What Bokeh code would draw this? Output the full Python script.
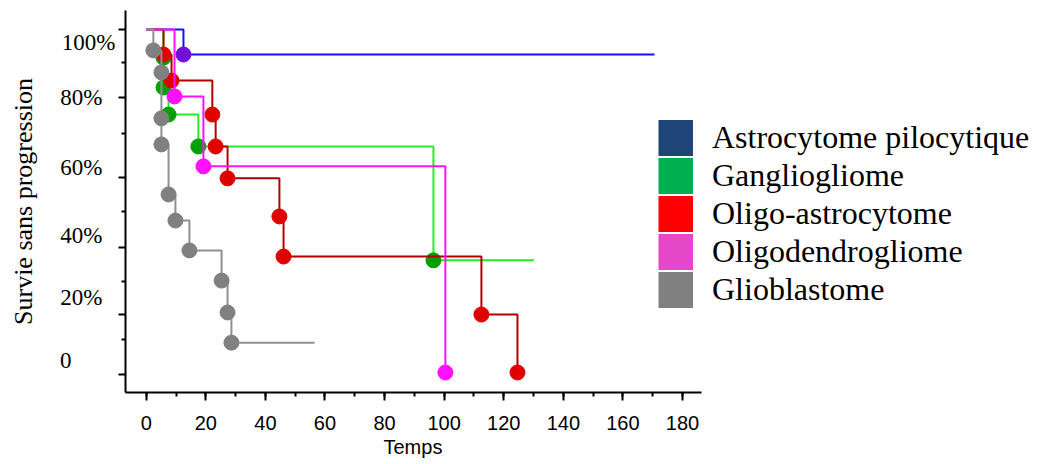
from bokeh.plotting import figure
from bokeh.models import (Range1d, FixedTicker, SingleIntervalTicker, LinearAxis,
                          Legend, LegendItem, CustomJSTickFormatter, Title)
from bokeh.embed import file_html
from bokeh.resources import INLINE

NaN = float("nan")

# ---- data ----
names = ["Astrocytome pilocytique", "Gangliogliome", "Oligo-astrocytome",
         "Oligodendrogliome", "Glioblastome"]

astro_t = [12.5]
astro_s = [92.7]
astro_end = 170.6

gang_t = [5.8, 5.8, 7.5, 17.5, 96.4]
gang_s = [91.8, 83.1, 75.2, 65.9, 32.7]
gang_end = 130.1

oligoastro_t = [5.8, 8.5, 22.2, 23.3, 27.3, 44.7, 46.1, 112.5, 124.6]
oligoastro_s = [92.7, 85.1, 75.2, 65.9, 56.6, 45.5, 33.8, 16.9, 0.0]
oligoastro_end = 124.6

oligodendro_t = [9.5, 19.2, 100.4]
oligodendro_s = [80.5, 60.1, 0.0]
oligodendro_end = 100.4

glio_t = [2.4, 5.1, 5.1, 5.1, 7.5, 9.8, 14.5, 25.3, 27.3, 28.6]
glio_s = [93.9, 87.5, 74.1, 66.5, 51.9, 44.3, 35.6, 26.8, 17.5, 8.7]
glio_end = 56.5

x_ticks_interval = 20
x_axis_bounds = (-6.95, 186.3)
y_tick_labels = ["100%", "80%", "60%", "40%", "20%", "0"]
y_label_pos = [96.2, 80.2, 59.8, 39.9, 21.9, 3.5]
y_major_ticks = [100.0, 80.2, 56.9, 36.4, 16.9, -0.6]
y_minor_ticks = [90.4, 69.7, 46.9, 26.5, 9.6]

legend_colors = ["#1F4478", "#00B050", "#FF0000", "#E646C8", "#808080"]
line_colors = ["#1010FF", "#22EE22", "#B00000", "#FF10FF", "#909090"]
marker_colors = ["#7010D8", "#00A000", "#E00000", "#FF10FF", "#808080"]

# ---- figure ----
p = figure(width=1039, height=464, output_backend="svg", toolbar_location=None,
           x_range=Range1d(-6.95, 299.8), y_range=Range1d(-5.83, 105.54),
           min_border_left=125, min_border_right=0, min_border_top=10,
           min_border_bottom=72)
p.grid.visible = False
p.outline_line_color = None

series = [
    (astro_t, astro_s, astro_end, 0),
    (gang_t, gang_s, gang_end, 1),
    (oligoastro_t, oligoastro_s, oligoastro_end, 2),
    (oligodendro_t, oligodendro_s, oligodendro_end, 3),
    (glio_t, glio_s, glio_end, 4),
]
for t, s, end, i in series:
    xs = [0.0] + list(t) + [end]
    ys = [100.0] + list(s) + [s[-1]]
    p.step(xs, ys, mode="after", line_color=line_colors[i], line_width=2)
    p.scatter(t, s, size=15, fill_color=marker_colors[i], line_color=marker_colors[i])

# legend swatches: thick-line renderers holding no visible data
items = []
for i, n in enumerate(names):
    r = p.line(x=[NaN], y=[NaN], line_color=legend_colors[i], line_width=36,
               line_cap="butt")
    items.append(LegendItem(label=n, renderers=[r]))
legend = Legend(items=items, location=(533, 84), glyph_width=35, glyph_height=37,
                spacing=1, padding=0, margin=0, label_standoff=19,
                label_text_font="Liberation Serif", label_text_font_size="32px",
                label_text_color="black", border_line_color=None,
                background_fill_alpha=0)
p.add_layout(legend)

# x axis
xa = p.xaxis[0]
xa.bounds = x_axis_bounds
xa.ticker = SingleIntervalTicker(interval=x_ticks_interval, num_minor_ticks=2)
xa.axis_line_width = 2
xa.major_tick_line_width = 2
xa.minor_tick_line_width = 2
xa.major_tick_in = 0
xa.major_tick_out = 8
xa.minor_tick_in = 0
xa.minor_tick_out = 4
xa.major_label_text_font = "Liberation Sans"
xa.major_label_text_font_size = "20px"
xa.major_label_text_color = "black"
xa.major_label_standoff = 15

p.add_layout(Title(text="Temps", align="left", offset=258, standoff=3,
                   text_font="Liberation Sans", text_font_size="20px",
                   text_font_style="normal", text_color="black"), "below")

# y axis: ticks only
ya = p.yaxis[0]
ya.ticker = FixedTicker(ticks=y_major_ticks, minor_ticks=y_minor_ticks)
ya.formatter = CustomJSTickFormatter(code="return ''")
ya.axis_line_width = 2
ya.major_tick_line_width = 2
ya.minor_tick_line_width = 2
ya.major_tick_in = 0
ya.major_tick_out = 7
ya.minor_tick_in = 0
ya.minor_tick_out = 4
ya.major_label_standoff = 0


def label_axis(idx, standoff, **kw):
    pos = [y_label_pos[k] for k in idx]
    return LinearAxis(ticker=FixedTicker(ticks=pos, minor_ticks=[]),
                      major_label_overrides={y_label_pos[k]: y_tick_labels[k] for k in idx},
                      axis_line_color=None, major_tick_line_color=None,
                      minor_tick_line_color=None, major_tick_out=0, major_tick_in=0,
                      major_label_standoff=standoff,
                      major_label_text_font="Liberation Serif",
                      major_label_text_font_size="23px",
                      major_label_text_color="black", **kw)


# labels are left-aligned in the reference: split them over stacked axes
p.add_layout(label_axis([0], 3), "left")
p.add_layout(label_axis([1, 2, 3, 4], -44), "left")
p.add_layout(label_axis([5], -14,
                        axis_label="Survie sans progression",
                        axis_label_text_font="Liberation Serif",
                        axis_label_text_font_size="26px",
                        axis_label_text_font_style="normal",
                        axis_label_text_color="black",
                        axis_label_standoff=19), "left")

open("out.html", "w").write(file_html(p, INLINE))
